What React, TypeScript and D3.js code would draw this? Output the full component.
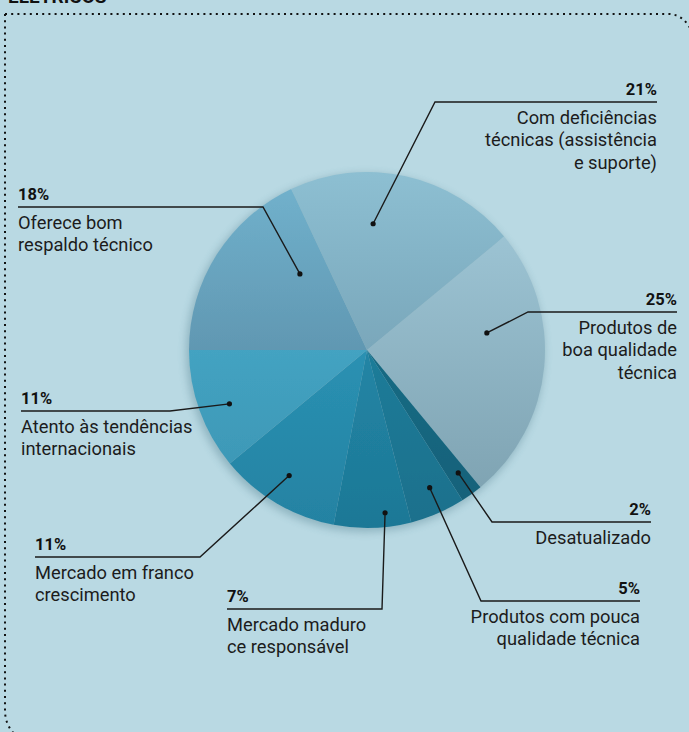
import React from "react";
import * as d3 from "d3";

// data (clockwise from 9 o'clock)
const categories = [
  "Oferece bom respaldo técnico",
  "Com deficiências técnicas (assistência e suporte)",
  "Produtos de boa qualidade técnica",
  "Desatualizado",
  "Produtos com pouca qualidade técnica",
  "Mercado maduro ce responsável",
  "Mercado em franco crescimento",
  "Atento às tendências internacionais",
];
const values = [18, 21, 25, 2, 5, 7, 11, 11];
const pctLabels = ["18%", "21%", "25%", "2%", "5%", "7%", "11%", "11%"];
const labelLines = [
  ["Oferece bom", "respaldo técnico"],
  ["Com deficiências", "técnicas (assistência", "e suporte)"],
  ["Produtos de", "boa qualidade", "técnica"],
  ["Desatualizado"],
  ["Produtos com pouca", "qualidade técnica"],
  ["Mercado maduro", "ce responsável"],
  ["Mercado em franco", "crescimento"],
  ["Atento às tendências", "internacionais"],
];

// slice shading (top colour, bottom colour)
const sliceTop = ["#72b3ce", "#8dbfd2", "#a3cbdb", "#1b7590", "#2388a6", "#2792b4", "#30a0c3", "#4db2d2"];
const sliceBottom = ["#4f7c96", "#668fa3", "#7b9fae", "#166078", "#1b708c", "#1d7896", "#2482a2", "#3a93b1"];

// callout layout: where the dot sits inside the slice, and the label's underline
const callouts = [
  { t: 0.75, rf: 0.57, ly: 207, x0: 18, x1: 263, elbowX: 263, anchor: "start" },
  { t: 0.37, rf: 0.71, ly: 102, x0: 435, x1: 657, elbowX: 435, anchor: "end" },
  { t: 0.35, rf: 0.68, ly: 312, x0: 528, x1: 677, elbowX: 528, anchor: "end" },
  { t: 0.42, rf: 0.86, ly: 522, x0: 492, x1: 651, elbowX: 492, anchor: "end" },
  { t: 0.44, rf: 0.85, ly: 601, x0: 481, x1: 640, elbowX: 481, anchor: "end" },
  { t: 0.32, rf: 0.92, ly: 609, x0: 227, x1: 382, elbowX: 382, anchor: "start" },
  { t: 0.53, rf: 0.83, ly: 557, x0: 35, x1: 200, elbowX: 200, anchor: "start" },
  { t: 0.46, rf: 0.83, ly: 411, x0: 21, x1: 170, elbowX: 170, anchor: "start" },
];

const W = 689;
const H = 732;
const cx = 367;
const cy = 350;
const R = 178;
const FONT = "Roboto, 'DejaVu Sans', sans-serif";

export default function App() {
  const pie = d3
    .pie<number>()
    .sort(null)
    .value((d) => d)
    .startAngle(-Math.PI / 2)
    .endAngle((3 * Math.PI) / 2);
  const arcs = pie(values);
  const arc = d3.arc<d3.PieArcDatum<number>>().innerRadius(0).outerRadius(R);

  // dotted frame: square top-left, rounded top-right and bottom-left
  const frame = "M 5,14 L 668,14 Q 684,14 692,32 M 5,14 L 5,712 Q 6,730 22,740";

  return (
    <div style={{ position: "absolute", left: 0, top: 0 }}>
      <svg width={W} height={H} style={{ display: "block" }}>
        <defs>
          {arcs.map((a, i) => (
            <linearGradient
              key={i}
              id={`g${i}`}
              gradientUnits="userSpaceOnUse"
              x1={0}
              y1={-R}
              x2={0}
              y2={R}
            >
              <stop offset="0%" stopColor={sliceTop[i]} />
              <stop offset="100%" stopColor={sliceBottom[i]} />
            </linearGradient>
          ))}
          <filter id="soft" x="-20%" y="-20%" width="140%" height="140%">
            <feGaussianBlur stdDeviation={4} />
          </filter>
          <filter id="edge" x="-5%" y="-5%" width="110%" height="110%">
            <feGaussianBlur stdDeviation={0.6} />
          </filter>
        </defs>
        <rect width={W} height={H} fill="#b9d9e3" />
        <text x={8} y={3} fontFamily={FONT} fontWeight={700} fontSize={19} fill="#111">
          ELETRICOS
        </text>
        <path
          d={frame}
          fill="none"
          stroke="#111"
          strokeWidth={2}
          strokeDasharray="2 4.2"
        />

        <circle cx={cx - 2} cy={cy + 3} r={R + 1} fill="#2b5d6e" opacity={0.3} filter="url(#soft)" />
        <g transform={`translate(${cx},${cy})`} filter="url(#edge)">
          {arcs.map((a, i) => (
            <path key={categories[i]} d={arc(a) ?? ""} fill={`url(#g${i})`} />
          ))}
        </g>

        {arcs.map((a, i) => {
          const c = callouts[i];
          const ang = a.startAngle + (a.endAngle - a.startAngle) * c.t;
          const px = cx + Math.sin(ang) * R * c.rf;
          const py = cy - Math.cos(ang) * R * c.rf;
          const tx = c.anchor === "end" ? c.x1 : c.x0;
          return (
            <g key={`c${i}`}>
              <polyline
                points={`${px},${py} ${c.elbowX},${c.ly} ${c.elbowX === c.x0 ? c.x1 : c.x0},${c.ly}`}
                fill="none"
                stroke="#1a1a1a"
                strokeWidth={1.4}
              />
              <circle cx={px} cy={py} r={2.6} fill="#111" />
              <text
                x={tx}
                y={c.ly - 7}
                textAnchor={c.anchor}
                fontFamily={FONT}
                fontWeight={700}
                fontSize={16.5}
                fill="#111"
              >
                {pctLabels[i]}
              </text>
              {labelLines[i].map((ln, j) => (
                <text
                  key={j}
                  x={tx}
                  y={c.ly + 22 + j * 22.4}
                  textAnchor={c.anchor}
                  fontFamily={FONT}
                  fontSize={18.3}
                  fill="#1c1c1c"
                >
                  {ln}
                </text>
              ))}
            </g>
          );
        })}
      </svg>
    </div>
  );
}
